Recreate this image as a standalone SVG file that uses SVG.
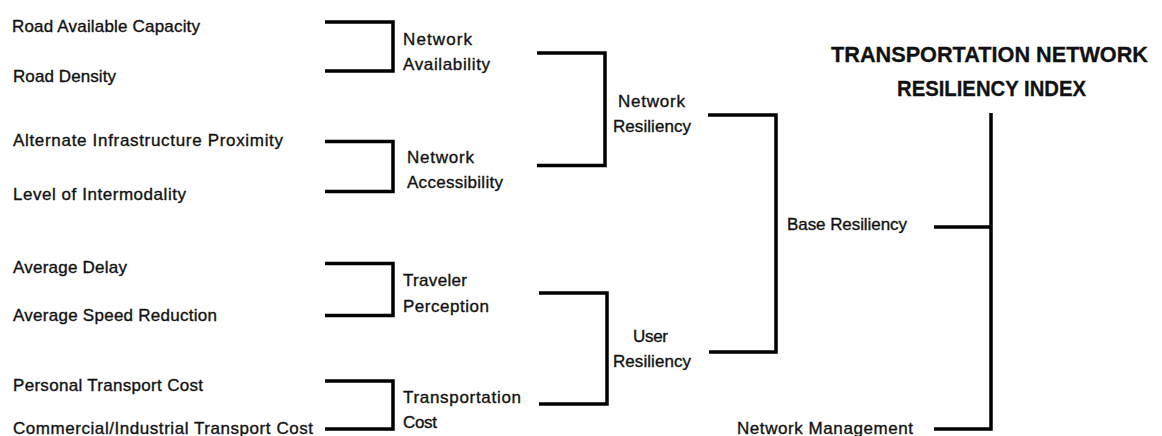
<svg xmlns="http://www.w3.org/2000/svg" width="1162" height="436" viewBox="0 0 1162 436">
  <style>
    text { font-family: "Liberation Sans", Arial, sans-serif; font-size: 17px; fill: #111; stroke: #111; stroke-width: 0.35; }
    .title { font-weight: bold; font-size: 22px; stroke-width: 0.3; }
    .link { fill: none; stroke: #000; stroke-width: 3.5; stroke-linejoin: miter; }
  </style>
  <rect width="1162" height="436" fill="#fff"/>

  <!-- bracket connectors -->
  <g id="connectors">
    <path class="link" d="M325,22 H393 V71 H325"/>
    <path class="link" d="M325,141.5 H393 V191.5 H325"/>
    <path class="link" d="M325,263.5 H393 V315.5 H325"/>
    <path class="link" d="M325,381 H393 V429 H325"/>
    <path class="link" d="M537,53 H605 V165.5 H537"/>
    <path class="link" d="M539,293 H607 V404 H539"/>
    <path class="link" d="M708,115 H776 V352 H709"/>
    <path class="link" d="M991,113 V429 H934 M934,227 H991"/>
  </g>

  <!-- indicators -->
  <g id="road-available-capacity"><text x="12" y="32" textLength="188">Road Available Capacity</text></g>
  <g id="road-density"><text x="13" y="81.5" textLength="103">Road Density</text></g>
  <g id="alternate-infrastructure-proximity"><text x="13" y="145.7" textLength="270">Alternate Infrastructure Proximity</text></g>
  <g id="level-of-intermodality"><text x="13" y="200" textLength="173">Level of Intermodality</text></g>
  <g id="average-delay"><text x="13" y="273.3" textLength="114">Average Delay</text></g>
  <g id="average-speed-reduction"><text x="13" y="321" textLength="204">Average Speed Reduction</text></g>
  <g id="personal-transport-cost"><text x="13" y="390.7" textLength="190">Personal Transport Cost</text></g>
  <g id="commercial-industrial-transport-cost"><text x="13" y="434" textLength="300">Commercial/Industrial Transport Cost</text></g>

  <!-- second level -->
  <g id="network-availability">
    <text x="403" y="45" textLength="69">Network</text>
    <text x="403" y="70" textLength="87">Availability</text>
  </g>
  <g id="network-accessibility">
    <text x="407" y="163" textLength="67">Network</text>
    <text x="407" y="188" textLength="96">Accessibility</text>
  </g>
  <g id="traveler-perception">
    <text x="403" y="286" textLength="64">Traveler</text>
    <text x="403" y="312" textLength="86">Perception</text>
  </g>
  <g id="transportation-cost">
    <text x="403" y="403" textLength="118">Transportation</text>
    <text x="403" y="428" textLength="34">Cost</text>
  </g>

  <!-- third level -->
  <g id="network-resiliency">
    <text x="618" y="107" textLength="67">Network</text>
    <text x="613" y="132" textLength="78">Resiliency</text>
  </g>
  <g id="user-resiliency">
    <text x="633" y="342" textLength="35">User</text>
    <text x="613" y="367" textLength="78">Resiliency</text>
  </g>

  <!-- fourth level -->
  <g id="base-resiliency"><text x="787" y="230" textLength="120">Base Resiliency</text></g>
  <g id="network-management"><text x="737" y="434" textLength="176">Network Management</text></g>

  <!-- index -->
  <g id="transportation-network-resiliency-index">
    <text class="title" x="831" y="62" textLength="317" lengthAdjust="spacingAndGlyphs">TRANSPORTATION NETWORK</text>
    <text class="title" x="897" y="96" textLength="189" lengthAdjust="spacingAndGlyphs">RESILIENCY INDEX</text>
  </g>
</svg>
